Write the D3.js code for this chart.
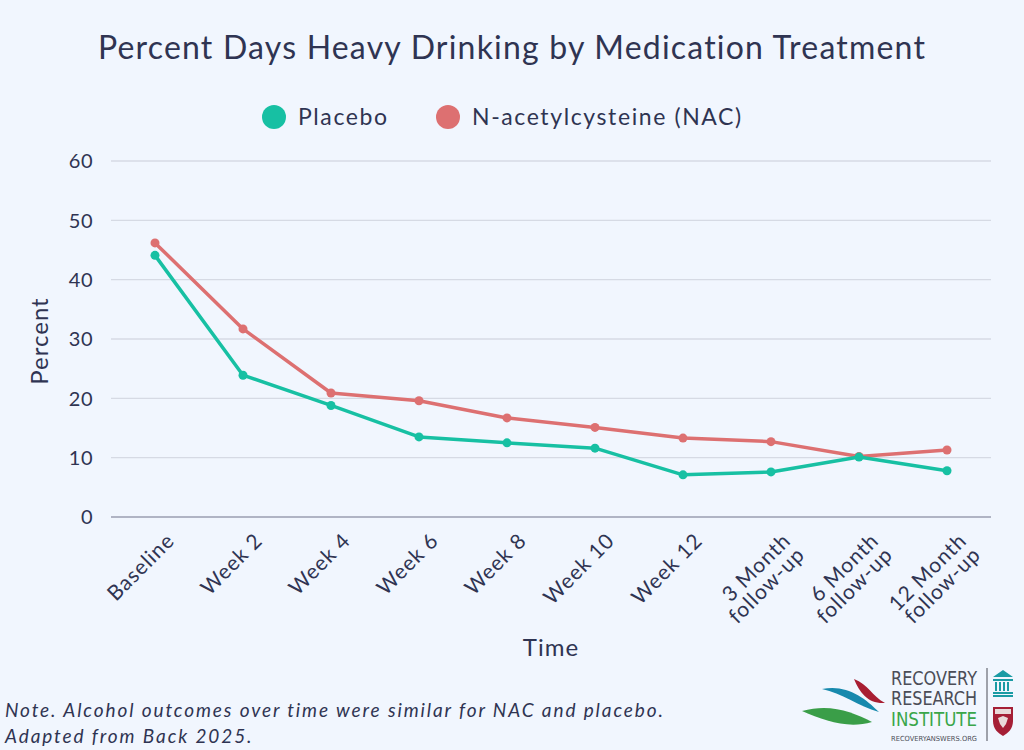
<!DOCTYPE html>
<html>
<head>
<meta charset="utf-8">
<script src="https://cdn.jsdelivr.net/npm/d3@7"></script>
<style>
  body { margin: 0; background: #f1f6fe; }
  svg { display: block; font-family: Lato, "Noto Sans", sans-serif; }
</style>
</head>
<body>
<svg id="chart"></svg>
<script>
const categories = ["Baseline", "Week 2", "Week 4", "Week 6", "Week 8", "Week 10", "Week 12",
  "3 Month\nfollow-up", "6 Month\nfollow-up", "12 Month\nfollow-up"];
const placebo = [44.1, 23.9, 18.8, 13.5, 12.5, 11.6, 7.1, 7.6, 10.1, 7.8];
const nac = [46.2, 31.7, 20.9, 19.6, 16.7, 15.1, 13.3, 12.7, 10.2, 11.3];
const yTicks = [0, 10, 20, 30, 40, 50, 60];

const width = 1024, height = 750;
const textColor = "#2f3452";
const placeboColor = "#17c0a3";
const nacColor = "#dd7071";

const svg = d3.select("#chart")
    .attr("width", width)
    .attr("height", height);

svg.append("rect").attr("width", width).attr("height", height).attr("fill", "#f1f6fe");

const x = d3.scaleBand().domain(categories).range([111, 991]);
const y = d3.scaleLinear().domain([0, 60]).range([517, 161]);

// title
svg.append("text")
    .attr("x", 512).attr("y", 59)
    .attr("text-anchor", "middle")
    .attr("font-size", 32)
    .attr("letter-spacing", 1.2)
    .attr("fill", textColor)
    .text("Percent Days Heavy Drinking by Medication Treatment");

// legend
const legend = [
  { name: "Placebo", color: placeboColor, x: 274 },
  { name: "N-acetylcysteine (NAC)", color: nacColor, x: 448 }
];
const lg = svg.append("g").selectAll("g").data(legend).enter().append("g")
    .attr("transform", d => `translate(${d.x},117)`);
lg.append("circle").attr("r", 12).attr("fill", d => d.color);
lg.append("text")
    .attr("x", 24).attr("dy", "0.36em")
    .attr("font-size", 23)
    .attr("letter-spacing", 1.6)
    .attr("fill", textColor)
    .text(d => d.name);

// grid
svg.append("g").selectAll("line").data(yTicks).enter().append("line")
    .attr("x1", 111).attr("x2", 991)
    .attr("y1", d => y(d)).attr("y2", d => y(d))
    .attr("stroke", d => d === 0 ? "#9a9eb0" : "#d6dae4")
    .attr("stroke-width", 1.3);

// y axis labels
svg.append("g").selectAll("text").data(yTicks).enter().append("text")
    .attr("x", 93).attr("y", d => y(d))
    .attr("dy", "0.36em")
    .attr("text-anchor", "end")
    .attr("font-size", 20)
    .attr("letter-spacing", 0.5)
    .attr("fill", textColor)
    .text(d => d);

svg.append("text")
    .attr("transform", "translate(48,341) rotate(-90)")
    .attr("text-anchor", "middle")
    .attr("font-size", 24)
    .attr("letter-spacing", 1)
    .attr("fill", textColor)
    .text("Percent");

// x axis labels
const xl = svg.append("g").selectAll("text").data(categories).enter().append("text")
    .attr("transform", d => `translate(${x(d) + x.bandwidth() / 2 + 12},533) rotate(-45)`)
    .attr("text-anchor", "end")
    .attr("font-size", 21)
    .attr("letter-spacing", 1)
    .attr("fill", textColor);
xl.each(function(d) {
  const lines = d.split("\n");
  d3.select(this).selectAll("tspan").data(lines).enter().append("tspan")
      .attr("x", 0)
      .attr("dy", (l, i) => i === 0 ? "0.6em" : "0.95em")
      .text(l => l);
});

svg.append("text")
    .attr("x", 551).attr("y", 656)
    .attr("text-anchor", "middle")
    .attr("font-size", 24)
    .attr("letter-spacing", 1)
    .attr("fill", textColor)
    .text("Time");

// lines
const line = d3.line()
    .x((d, i) => x(categories[i]) + x.bandwidth() / 2)
    .y(d => y(d));

const series = [
  { values: nac, color: nacColor },
  { values: placebo, color: placeboColor }
];
series.forEach(s => {
  svg.append("path")
      .datum(s.values)
      .attr("d", line)
      .attr("fill", "none")
      .attr("stroke", s.color)
      .attr("stroke-width", 3.5)
      .attr("stroke-linejoin", "round");
  svg.append("g").selectAll("circle").data(s.values).enter().append("circle")
      .attr("cx", (d, i) => x(categories[i]) + x.bandwidth() / 2)
      .attr("cy", d => y(d))
      .attr("r", 4.5)
      .attr("fill", s.color);
});

// note
const note = svg.append("text")
    .attr("font-size", 19)
    .attr("font-style", "italic")
    .attr("letter-spacing", 1.9)
    .attr("fill", textColor);
note.append("tspan").attr("x", 5).attr("y", 717)
    .text("Note. Alcohol outcomes over time were similar for NAC and placebo.");
note.append("tspan").attr("x", 5).attr("y", 743)
    .text("Adapted from Back 2025.");

// logo
const logo = svg.append("g");
logo.append("path")
    .attr("d", "M854,679 C868,684 872,696 885,703 C868,704 860,693 854,679 Z")
    .attr("fill", "#a81e32");
logo.append("path")
    .attr("d", "M822,689 C846,684 864,697 879,712 C858,706 842,693 822,689 Z")
    .attr("fill", "#1789ad");
logo.append("path")
    .attr("d", "M802,711 C830,703 853,712 872,722 C848,729 825,721 802,711 Z")
    .attr("fill", "#3a9e48");
const logoText = [
  { t: "RECOVERY", y: 685, size: 19, color: "#4b4d57" },
  { t: "RESEARCH", y: 705, size: 19, color: "#4b4d57" },
  { t: "INSTITUTE", y: 726, size: 19, color: "#3aa64a" },
  { t: "RECOVERYANSWERS.ORG", y: 741, size: 7, color: "#4b4d57" }
];
logo.selectAll("text.logo").data(logoText).enter().append("text")
    .attr("class", "logo")
    .attr("x", 891).attr("y", d => d.y)
    .attr("font-family", "'Liberation Sans Narrow', 'DejaVu Sans Condensed', sans-serif")
    .attr("font-size", d => d.size)
    .attr("fill", d => d.color)
    .attr("textLength", 86)
    .attr("lengthAdjust", "spacingAndGlyphs")
    .text(d => d.t);
logo.append("line")
    .attr("x1", 987).attr("x2", 987).attr("y1", 668).attr("y2", 741)
    .attr("stroke", "#4b4d57").attr("stroke-width", 1);
// building icon
logo.append("path")
    .attr("d", "M993,677 L1003,670 L1013,677 Z M993,679 h20 v2 h-20 Z M995,682 h2 v9 h-2 Z M999,682 h2 v9 h-2 Z M1003,682 h2 v9 h-2 Z M1007,682 h2 v9 h-2 Z M993,692 h20 v2 h-20 Z M993,695 h20 v2 h-20 Z")
    .attr("fill", "#1a9ba4");
// shield
logo.append("path")
    .attr("d", "M993,707 h20 v14 C1013,729 1008,733 1003,736 C998,733 993,729 993,721 Z")
    .attr("fill", "#a51f36");
logo.append("path")
    .attr("d", "M995,709 h16 v5 h-16 Z")
    .attr("fill", "#e9dada");
logo.append("path")
    .attr("d", "M998,718 l5,-2 l5,2 l-2,6 l-3,4 l-3,-4 Z")
    .attr("fill", "#e9dada");
</script>
</body>
</html>
